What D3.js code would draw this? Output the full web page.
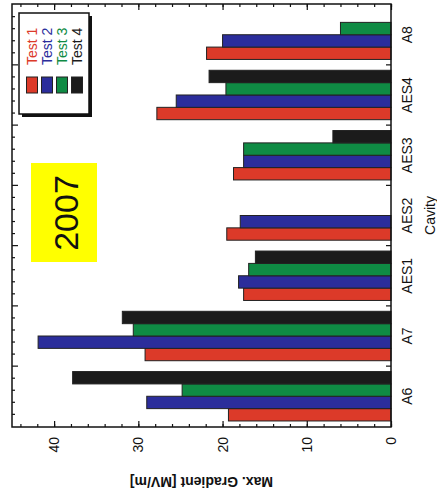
<!DOCTYPE html>
<html>
<head>
<meta charset="utf-8">
<title>Max. Gradient per Cavity, 2007</title>
<script src="https://d3js.org/d3.v7.min.js"></script>
<style>
  body { margin: 0; background: #fff; }
  text { font-family: "Liberation Sans", Arial, sans-serif; fill: #111; }
  .axis path { display: none; }
  .axis line { stroke: #111; stroke-width: 1.2; }
  .axis text { font-size: 14px; }
</style>
</head>
<body>
<svg></svg>
<script>
// values (MV/m); null = no bar
var categories = ["A6", "A7", "AES1", "AES2", "AES3", "AES4", "A8"];
var series = ["Test 1", "Test 2", "Test 3", "Test 4"];
var test1 = [19.3, 29.2, 17.5, 19.5, 18.7, 27.8, 21.9];
var test2 = [29.0, 41.9, 18.1, 17.9, 17.5, 25.5, 20.0];
var test3 = [24.8, 30.6, 16.9, null, 17.5, 19.6, 6.0];
var test4 = [37.8, 31.9, 16.1, null, 6.9, 21.6, null];
var majorTicks = [0, 10, 20, 30, 40];

var values = [test1, test2, test3, test4];
var colors = ["#dc3a29", "#2b2d9b", "#0f8b44", "#1b1b1b"];

// the chart is drawn upright, then the whole thing is turned a quarter to the left
var W = 496, H = 437;
var svg = d3.select("svg").attr("width", H).attr("height", W);
var g = svg.append("g").attr("transform", "translate(0," + W + ") rotate(-90)");

var x = d3.scaleBand().domain(categories).range([69, 492])
  .paddingInner(0.18).paddingOuter(0.1);
var x1 = d3.scaleBand().domain(series).range([0, x.bandwidth()]);
var y = d3.scaleLinear().domain([0, 45]).range([391, 12]);
var color = d3.scaleOrdinal().domain(series).range(colors);

// bars
var bars = [];
series.forEach(function(s, si) {
  categories.forEach(function(c, ci) {
    if (values[si][ci] != null) bars.push({cat: c, s: s, v: values[si][ci]});
  });
});
g.append("g").selectAll("rect").data(bars).enter().append("rect")
  .attr("x", function(d) { return x(d.cat) + x1(d.s); })
  .attr("y", function(d) { return y(d.v); })
  .attr("width", x1.bandwidth())
  .attr("height", function(d) { return y(0) - y(d.v); })
  .style("fill", function(d) { return color(d.s); })
  .style("stroke", "#222")
  .style("stroke-width", 1);

// value axis, ticks pointing inward, mirrored on the other side
g.append("g").attr("class", "axis").attr("transform", "translate(69,0)")
  .call(d3.axisLeft(y).tickValues(majorTicks).tickSize(-6).tickPadding(10));
g.append("g").attr("class", "axis").attr("transform", "translate(69,0)")
  .call(d3.axisLeft(y).tickValues(d3.range(0, 45, 2)).tickSize(-3).tickFormat(""));
g.append("g").attr("class", "axis").attr("transform", "translate(492,0)")
  .call(d3.axisRight(y).tickValues(majorTicks).tickSize(-6).tickFormat(""));
g.append("g").attr("class", "axis").attr("transform", "translate(492,0)")
  .call(d3.axisRight(y).tickValues(d3.range(0, 45, 2)).tickSize(-3).tickFormat(""));

// category axis
g.append("g").attr("class", "axis").attr("transform", "translate(0,391)")
  .call(d3.axisBottom(x).tickSize(0).tickPadding(11));

// category boundaries
var gap = x.step() - x.bandwidth();
var bounds = d3.range(1, categories.length).map(function(i) {
  return x(categories[0]) - gap / 2 + i * x.step();
});
var minors = [];
d3.range(0, categories.length).forEach(function(i) {
  var b = x(categories[0]) - gap / 2 + i * x.step();
  d3.range(1, 5).forEach(function(k) { minors.push(b + k * x.step() / 5); });
});
var frameTicks = g.append("g").style("stroke", "#111").style("stroke-width", 1.2);
frameTicks.selectAll(".bt").data(bounds).enter().append("line")
  .attr("x1", function(d) { return d; }).attr("x2", function(d) { return d; })
  .attr("y1", 391).attr("y2", 386);
frameTicks.selectAll(".tt").data(bounds).enter().append("line")
  .attr("x1", function(d) { return d; }).attr("x2", function(d) { return d; })
  .attr("y1", 12).attr("y2", 18);
frameTicks.selectAll(".mt").data(minors).enter().append("line")
  .attr("x1", function(d) { return d; }).attr("x2", function(d) { return d; })
  .attr("y1", 12).attr("y2", 15);

// frame
g.append("rect").attr("x", 69).attr("y", 12).attr("width", 492 - 69).attr("height", 391 - 12)
  .style("fill", "none").style("stroke", "#111").style("stroke-width", 1.5);

// axis titles
g.append("text").attr("x", (69 + 492) / 2).attr("y", 435)
  .attr("text-anchor", "middle").style("font-size", "14px").text("Cavity");
g.append("text").attr("transform", "translate(19," + y(22.5) + ") rotate(-90)")
  .attr("text-anchor", "middle").style("font-size", "14px").style("font-weight", "bold")
  .text("Max. Gradient [MV/m]");

// legend
var ly = d3.scalePoint().domain(series).range([32, 77]);
g.append("rect").attr("x", 379).attr("y", 22).attr("width", 101).attr("height", 70)
  .style("fill", "#111");
g.append("rect").attr("x", 382).attr("y", 19).attr("width", 101).attr("height", 70)
  .style("fill", "#fff").style("stroke", "#111").style("stroke-width", 1.5);
var li = g.append("g").selectAll("g").data(series).enter().append("g");
li.append("rect").attr("x", 403).attr("y", function(d) { return ly(d) - 5.5; })
  .attr("width", 16).attr("height", 11)
  .style("fill", function(d) { return color(d); }).style("stroke", "#222");
li.append("text").attr("x", 431).attr("y", function(d) { return ly(d) + 5; })
  .style("font-size", "14px").style("fill", function(d) { return color(d); })
  .text(function(d) { return d; });

// year label
g.append("rect").attr("x", 234).attr("y", 31).attr("width", 99).attr("height", 66)
  .style("fill", "#ffff00");
g.append("text").attr("x", 283).attr("y", 78).attr("text-anchor", "middle")
  .style("font-size", "34px").text("2007");
</script>
</body>
</html>
